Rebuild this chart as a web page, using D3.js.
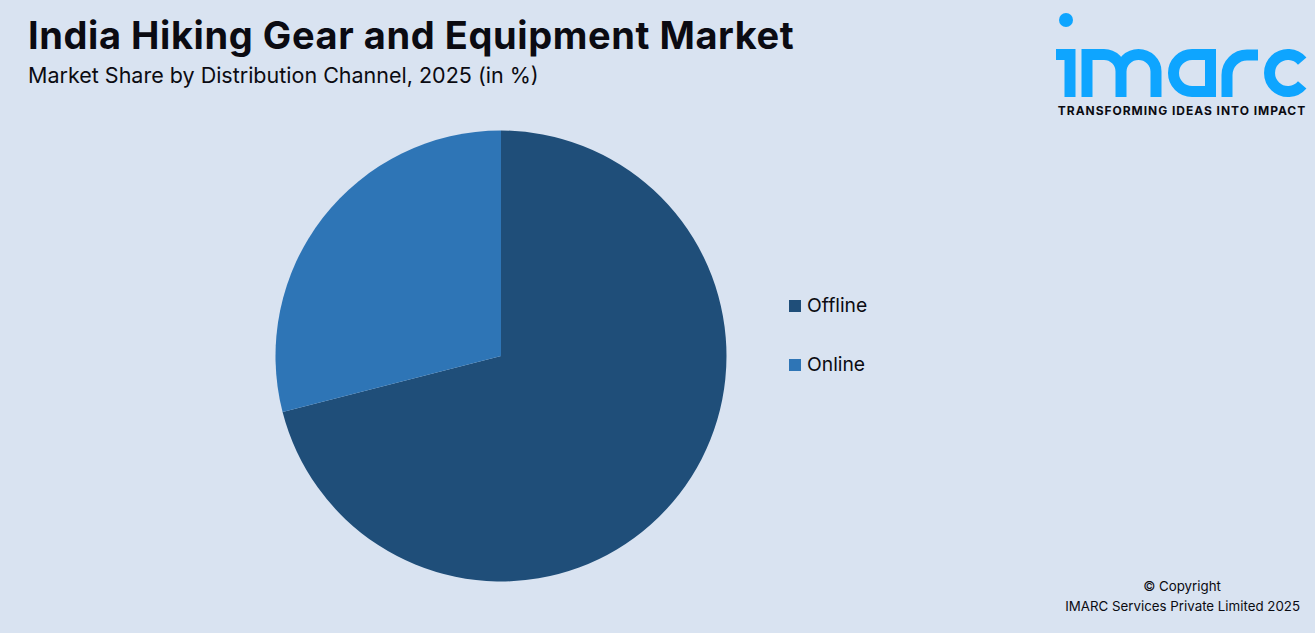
<!DOCTYPE html>
<html><head><meta charset="utf-8">
<script src="https://cdn.jsdelivr.net/npm/d3@7"></script>
<style>
html,body{margin:0;padding:0;background:#d9e3f1;overflow:hidden}
text{font-family:Inter,"Noto Sans",sans-serif;fill:#0b0b12}
</style></head><body>
<svg id="c" width="1315" height="633"></svg>
<script>
const titleText = "India Hiking Gear and Equipment Market";
const subtitleText = "Market Share by Distribution Channel, 2025 (in %)";
const categories = ["Offline", "Online"];
const shares = [71, 29];
const colours = ["#1f4e79", "#2e75b6"];
const copyrightLines = ["© Copyright", "IMARC Services Private Limited 2025"];
const tagline = "TRANSFORMING IDEAS INTO IMPACT";

const svg = d3.select("#c");
svg.append("text").attr("x",28).attr("y",49).attr("font-size",38).attr("font-weight",700).attr("letter-spacing",0.58).text(titleText);
svg.append("text").attr("x",28).attr("y",83).attr("font-size",21.5).text(subtitleText);

const pie = d3.pie().sort(null)(shares);
const arc = d3.arc().innerRadius(0).outerRadius(225.5);
svg.append("g").attr("transform","translate(501,356)")
  .selectAll("path").data(pie).join("path")
  .attr("d",arc).attr("fill",(d,i)=>colours[i]);

const legendY = d3.scalePoint().domain(categories).range([306,365]);
const lg = svg.append("g").selectAll("g").data(categories).join("g")
  .attr("transform",d=>`translate(789,${legendY(d)})`);
lg.append("rect").attr("y",-6).attr("width",12).attr("height",12).attr("fill",(d,i)=>colours[i]);
lg.append("text").attr("x",18).attr("y",5.7).attr("font-size",19.3).text(d=>d);

svg.selectAll(".cr").data(copyrightLines).join("text").attr("class","cr")
  .attr("x",(d,i)=>i?1300:1182).attr("y",(d,i)=>i?611:591)
  .attr("text-anchor",(d,i)=>i?"end":"middle").attr("font-size",13.3).text(d=>d);

const blue = "#0ea5ff";
svg.append("circle").attr("cx",1066).attr("cy",20).attr("r",7).attr("fill",blue);
const logo = svg.append("g").attr("fill","none").attr("stroke",blue).attr("stroke-width",11);
logo.append("title").text("imarc");
const glyphs = [
  "M1056 54.5H1070V97",
  "M1087 97V54.5H1104A17 17 0 0 1 1121 71.5V97M1121 71.5A17.5 17 0 0 1 1138.5 54.5A17.5 17 0 0 1 1156 71.5V97",
  "M1210.5 97V54.5H1192A18.5 18.5 0 0 0 1192 91.5H1210.5",
  "M1227 97V75A20 20 0 0 1 1247 55H1258",
  "M1302.2 61.1A18.5 18.5 0 1 0 1302.2 84.9"
];
logo.selectAll("path").data(glyphs).join("path").attr("d",d=>d);
svg.append("text").attr("x",1182).attr("y",115).attr("text-anchor","middle")
  .attr("font-size",12).attr("font-weight",700).attr("letter-spacing",0.97).text(tagline);
</script></body></html>
